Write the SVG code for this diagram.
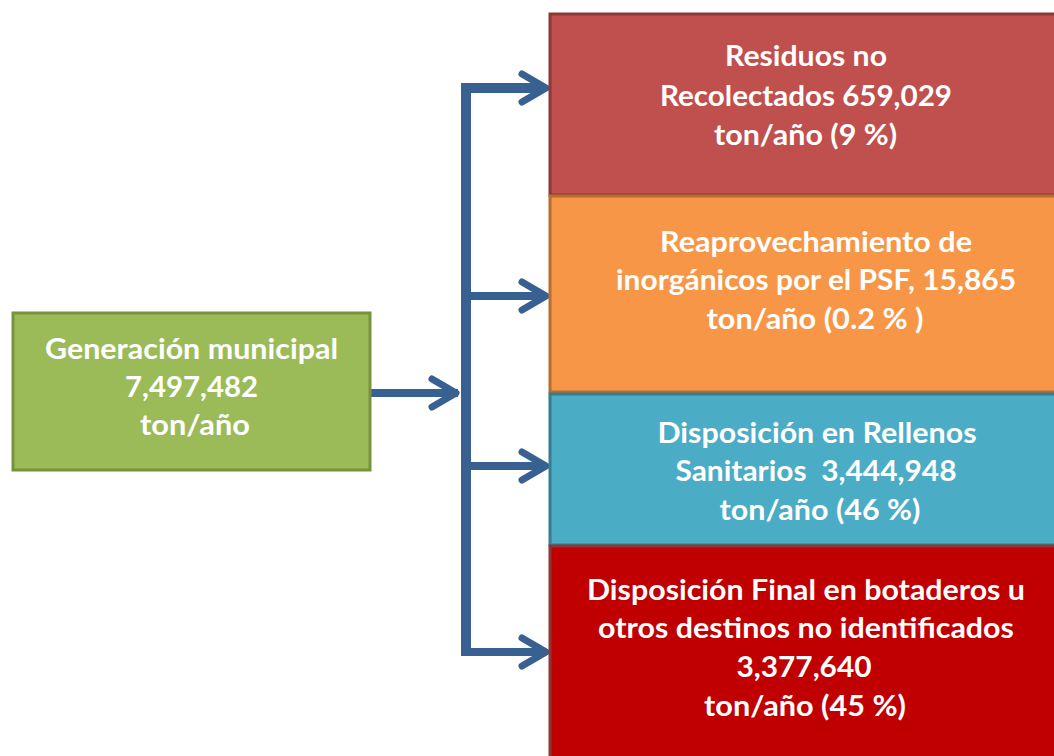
<svg xmlns="http://www.w3.org/2000/svg" width="1054" height="756" viewBox="0 0 1054 756">
<defs>
<style>
.t{font-family:Lato,"Open Sans","Liberation Sans",sans-serif;font-weight:bold;font-size:28px;fill:#fff;text-anchor:middle}
.c{fill:none;stroke:#386192;stroke-linecap:butt;stroke-linejoin:miter}
.h{fill:none;stroke:#386192;stroke-width:7;stroke-linecap:round;stroke-linejoin:round}
</style>
</defs>
<rect width="1054" height="756" fill="#fff"/>
<g id="connectors">
<path class="c" d="M466,656 V88 H540" stroke-width="10"/>
<path class="c" d="M371,393 H458" stroke-width="8"/>
<path class="c" d="M466,296 H540" stroke-width="8"/>
<path class="c" d="M466,466 H540" stroke-width="8"/>
<path class="c" d="M466,652 H540" stroke-width="8"/>
<path class="h" d="M522,74 L546,88 L522,102"/>
<path class="h" d="M522,282 L546,296 L522,310"/>
<path class="h" d="M522,452 L546,466 L522,480"/>
<path class="h" d="M522,638 L546,652 L522,666"/>
<path class="h" d="M432,379 L456,393 L432,407"/>
</g>
<g id="gen">
<rect x="13" y="313" width="357" height="157" fill="#9BBB59" stroke="#77933C" stroke-width="3"/>
<text class="t" x="191.5" y="359" textLength="293" lengthAdjust="spacingAndGlyphs">Generación municipal</text>
<text class="t" x="191.5" y="397" textLength="133" lengthAdjust="spacingAndGlyphs">7,497,482</text>
<text class="t" x="195" y="435" textLength="110" lengthAdjust="spacingAndGlyphs">ton/año</text>
</g>
<g id="residuos">
<rect x="550" y="14" width="520" height="181" fill="#C0504D" stroke="#8C3836" stroke-width="3"/>
<text class="t" x="806" y="66" textLength="162" lengthAdjust="spacingAndGlyphs">Residuos no</text>
<text class="t" x="806" y="106" textLength="292" lengthAdjust="spacingAndGlyphs">Recolectados 659,029</text>
<text class="t" x="805.5" y="145" textLength="183" lengthAdjust="spacingAndGlyphs">ton/año (9 %)</text>
</g>
<g id="reaprov">
<rect x="550" y="196" width="520" height="196" fill="#F79646" stroke="#B66D31" stroke-width="3"/>
<text class="t" x="816" y="252" textLength="312" lengthAdjust="spacingAndGlyphs">Reaprovechamiento de</text>
<text class="t" x="816" y="290" textLength="400" lengthAdjust="spacingAndGlyphs">inorgánicos por el PSF, 15,865</text>
<text class="t" x="815" y="329" textLength="217" lengthAdjust="spacingAndGlyphs">ton/año (0.2 % )</text>
</g>
<g id="rellenos">
<rect x="550" y="394" width="520" height="151" fill="#4BACC6" stroke="#357D91" stroke-width="3"/>
<text class="t" x="817" y="443" textLength="319" lengthAdjust="spacingAndGlyphs">Disposición en Rellenos</text>
<text class="t" x="816" y="481" textLength="281" lengthAdjust="spacingAndGlyphs" xml:space="preserve">Sanitarios  3,444,948</text>
<text class="t" x="820" y="520" textLength="201" lengthAdjust="spacingAndGlyphs">ton/año (46 %)</text>
</g>
<g id="botaderos">
<rect x="550" y="546" width="520" height="220" fill="#C00000" stroke="#8C3836" stroke-width="3"/>
<text class="t" x="806" y="600" textLength="438" lengthAdjust="spacingAndGlyphs">Disposición Final en botaderos u</text>
<text class="t" x="806" y="638" textLength="416" lengthAdjust="spacingAndGlyphs">otros destinos no identificados</text>
<text class="t" x="804" y="677" textLength="135" lengthAdjust="spacingAndGlyphs">3,377,640</text>
<text class="t" x="805" y="716" textLength="202" lengthAdjust="spacingAndGlyphs">ton/año (45 %)</text>
</g>
</svg>
